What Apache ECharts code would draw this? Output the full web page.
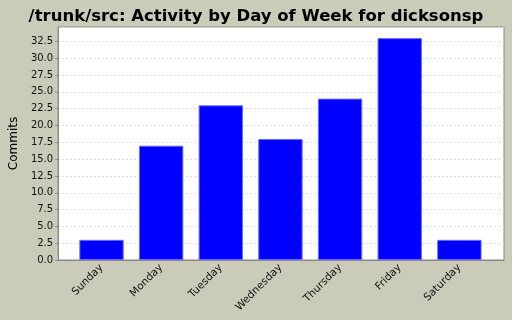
<!DOCTYPE html>
<html>
<head>
<meta charset="utf-8">
<script src="https://cdn.jsdelivr.net/npm/echarts@6/dist/echarts.min.js"></script>
<style>
  html, body { margin: 0; padding: 0; background: #cbcbb9; }
  #chart { width: 512px; height: 320px; }
</style>
</head>
<body>
<div id="chart"></div>
<script>
const days = ["Sunday", "Monday", "Tuesday", "Wednesday", "Thursday", "Friday", "Saturday"];
const commits = [3, 17, 23, 18, 24, 33, 3];
const yMax = 34.65;

const chart = echarts.init(document.getElementById("chart"));

const option = {
  backgroundColor: "#cbcbb9",
  animation: false,
  title: {
    text: "/trunk/src: Activity by Day of Week for dicksonsp",
    left: "center",
    top: 3,
    textStyle: { fontFamily: "DejaVu Sans", fontWeight: "bold", fontSize: 16.5, color: "#000" },
  },
  grid: [
    // plot frame
    { left: 57, right: 8, top: 27, bottom: 60, show: true, backgroundColor: "#fff", borderColor: "#888", borderWidth: 1 },
    // bars area, with the category margins of the original
    { left: 71.7, right: 22.8, top: 27, bottom: 60 },
  ],
  xAxis: [
    {
      gridIndex: 0,
      type: "category",
      data: days,
      axisLine: { show: true, lineStyle: { color: "#888" } },
      axisTick: { show: false },
      axisLabel: { show: false },
      z: 5,
    },
    {
      gridIndex: 1,
      type: "category",
      data: days,
      axisLine: { show: false },
      axisTick: { show: false },
      axisLabel: { rotate: 45, fontFamily: "DejaVu Sans", fontSize: 10.5, color: "#111", margin: 6 },
    },
  ],
  yAxis: [
    {
      gridIndex: 0,
      type: "value",
      min: 0,
      max: yMax,
      interval: 2.5,
      name: "Commits",
      nameLocation: "middle",
      nameGap: 33,
      nameTextStyle: { fontFamily: "DejaVu Sans", fontSize: 12, color: "#000" },
      axisLine: { show: true, lineStyle: { color: "#888" } },
      axisTick: { show: true, length: 3, lineStyle: { color: "#888" } },
      axisLabel: {
        fontFamily: "DejaVu Sans",
        fontSize: 10,
        color: "#111",
        margin: 5,
        showMaxLabel: false,
        formatter: (v) => v.toFixed(1),
      },
      splitLine: { show: true, lineStyle: { color: "#ddd", type: [2, 2] } },
    },
    { gridIndex: 1, type: "value", min: 0, max: yMax, show: false, splitLine: { show: false } },
  ],
  series: [
    {
      type: "bar",
      xAxisIndex: 1,
      yAxisIndex: 1,
      data: commits,
      barCategoryGap: "25.6%",
      itemStyle: { color: "#0000ff", borderColor: "#6a6aff", borderWidth: 1 },
    },
  ],
};

chart.setOption(option);
</script>
</body>
</html>
